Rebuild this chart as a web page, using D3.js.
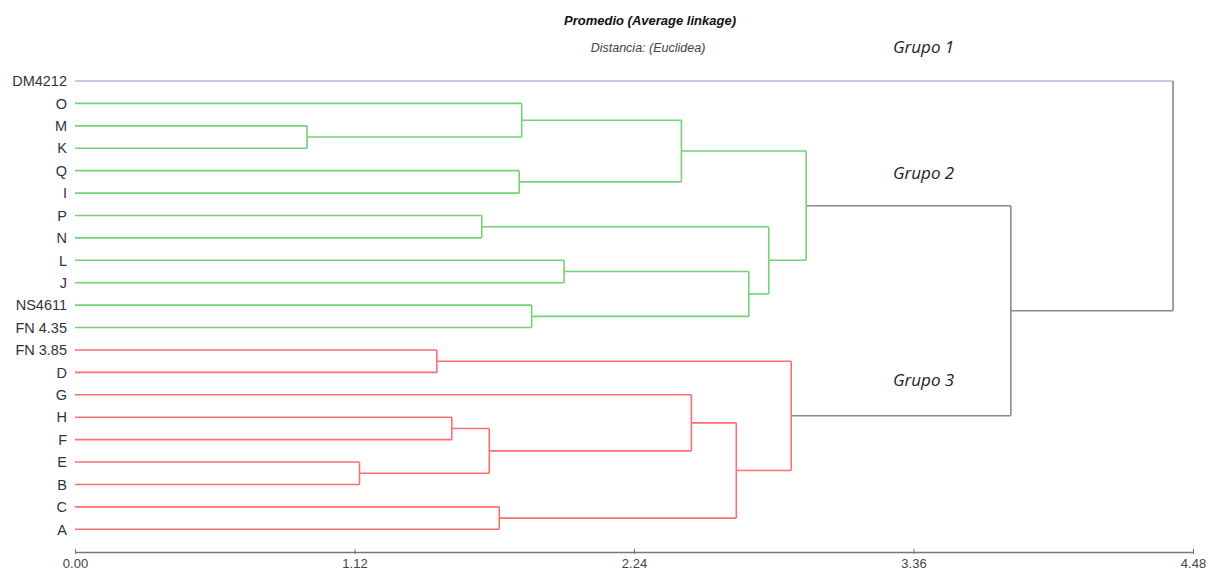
<!DOCTYPE html>
<html>
<head>
<meta charset="utf-8">
<script src="https://cdn.jsdelivr.net/npm/d3@7"></script>
<style>
  html, body { margin: 0; padding: 0; background: #fff; }
  svg { display: block; }
</style>
</head>
<body>
<svg id="chart" width="1210" height="573"></svg>
<script>
// Leaf order (top to bottom) and the group each leaf belongs to
const leafLabels = ["DM4212", "O", "M", "K", "Q", "I", "P", "N", "L", "J", "NS4611", "FN 4.35",
                    "FN 3.85", "D", "G", "H", "F", "E", "B", "C", "A"];
const leafGroups = [1, 2, 2, 2, 2, 2, 2, 2, 2, 2, 2, 2,
                    3, 3, 3, 3, 3, 3, 3, 3, 3];

// Agglomeration steps: [cluster id, left member, right member, distance]
const mergeIds    = ["MK", "EB", "FD", "HF", "PN", "HFEB", "CA", "QI", "OMK", "NSFN", "LJ", "OQ",  "GHB", "GCA", "LJNS", "PNLJ", "G2",  "G3",  "G23", "ROOT"];
const mergeLeft   = ["M",  "E",  "FN 3.85", "H", "P", "HF", "C", "Q", "O",  "NS4611", "L", "OMK", "G", "GHB", "LJ", "PN", "OQ", "FD", "G2", "DM4212"];
const mergeRight  = ["K",  "B",  "D",  "F",  "N",  "EB",  "A",  "I",  "MK", "FN 4.35", "J", "QI", "HFEB", "CA", "NSFN", "LJNS", "PNLJ", "GCA", "G3", "G23"];
const mergeHeight = [0.93, 1.14, 1.45, 1.51, 1.63, 1.66, 1.70, 1.78, 1.79, 1.83, 1.96, 2.43, 2.47, 2.65, 2.70, 2.78, 2.93, 2.87, 3.75, 4.40];

const axisTicks = [0, 1.12, 2.24, 3.36, 4.48];
const groupLabels = ["Grupo 1", "Grupo 2", "Grupo 3"];
const groupLabelRows = [-1.5, 4.1, 13.35]; // vertical placement in leaf-row units

const groupColor = { 1: "#c9abe8", 2: "#74d374", 3: "#ff6f6f", 0: "#8a8a8a" };

const svg = d3.select("#chart");
const x = d3.scaleLinear().domain([0, 4.48]).range([75, 1193]);
const y = d3.scaleLinear().domain([0, leafLabels.length - 1]).range([81, 529.3]);

// Build nodes
const nodes = {};
leafLabels.forEach((name, i) => {
  nodes[name] = { name, height: 0, y: y(i), group: leafGroups[i], leaf: true };
});
mergeIds.forEach((id, i) => {
  const a = nodes[mergeLeft[i]], b = nodes[mergeRight[i]];
  nodes[id] = {
    name: id, height: mergeHeight[i], y: (a.y + b.y) / 2,
    group: a.group === b.group ? a.group : 0,
    children: [a, b], leaf: false
  };
});
const root = d3.hierarchy(nodes["ROOT"], d => d.children);

const g = svg.append("g");

// Links: horizontal from child up to parent height, vertical at parent height
root.descendants().forEach(d => {
  const n = d.data;
  if (!n.children) return;
  const px = x(n.height);
  n.children.forEach(c => {
    const hCol = (c.leaf || c.group === n.group) ? groupColor[c.group] : groupColor[0];
    g.append("line")
      .attr("x1", x(c.height)).attr("x2", px)
      .attr("y1", c.y).attr("y2", c.y)
      .attr("stroke", hCol).attr("stroke-width", 1.6);
  });
  g.append("line")
    .attr("x1", px).attr("x2", px)
    .attr("y1", n.children[0].y).attr("y2", n.children[1].y)
    .attr("stroke", groupColor[n.group]).attr("stroke-width", 1.6);
});

// Leaf labels
svg.append("g").selectAll("text")
  .data(leafLabels)
  .join("text")
  .attr("x", 67)
  .attr("y", (d, i) => y(i))
  .attr("dy", "0.36em")
  .attr("text-anchor", "end")
  .attr("font-family", "Liberation Sans, Arial, sans-serif")
  .attr("font-size", 14.5)
  .attr("fill", "#333")
  .text(d => d);

// Distance axis
const axis = d3.axisBottom(x).tickValues(axisTicks).tickFormat(d3.format(".2f")).tickSize(0).tickPadding(7);
const ag = svg.append("g").attr("transform", "translate(0,552)").call(axis);
ag.select(".domain").attr("stroke", "#777").attr("stroke-width", 1.5);
ag.selectAll(".tick").append("line").attr("y1", -3).attr("y2", 2).attr("stroke", "#777");
ag.selectAll("text")
  .attr("font-family", "Liberation Sans, Arial, sans-serif")
  .attr("font-size", 13)
  .attr("fill", "#444");

// Titles
svg.append("text")
  .attr("x", 650).attr("y", 25)
  .attr("text-anchor", "middle")
  .attr("font-family", "Liberation Sans, Arial, sans-serif")
  .attr("font-size", 13).attr("font-weight", "bold").attr("font-style", "italic")
  .attr("fill", "#111")
  .text("Promedio (Average linkage)");
svg.append("text")
  .attr("x", 648).attr("y", 52)
  .attr("text-anchor", "middle")
  .attr("font-family", "Liberation Sans, Arial, sans-serif")
  .attr("font-size", 12.5).attr("font-style", "italic")
  .attr("fill", "#444")
  .text("Distancia: (Euclidea)");

// Group annotations
svg.append("g").selectAll("text")
  .data(groupLabels)
  .join("text")
  .attr("x", 893)
  .attr("y", (d, i) => y(groupLabelRows[i]))
  .attr("dy", "0.36em")
  .attr("font-family", "Open Sans, sans-serif")
  .attr("font-size", 17).attr("font-style", "italic")
  .attr("fill", "#222")
  .text(d => d);
</script>
</body>
</html>
